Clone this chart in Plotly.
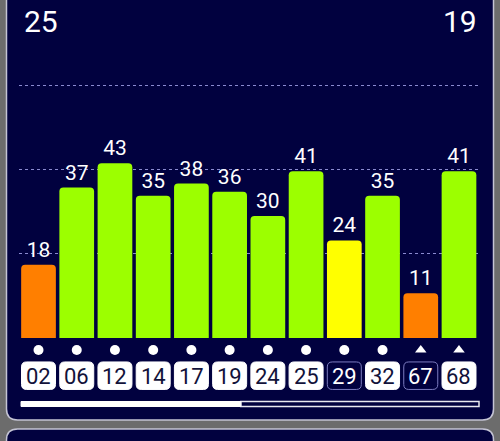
import plotly.graph_objects as go

# ---- data ----
prns = ["02", "06", "12", "14", "17", "19", "24", "25", "29", "32", "67", "68"]
cn0 = [18, 37, 43, 35, 38, 36, 30, 41, 24, 35, 11, 41]
used_in_fix = [True, True, True, True, True, True, True, True, False, True, False, True]
constellation = ["GPS"] * 10 + ["GLONASS"] * 2
in_view = 25
in_use = 19
progress = 0.48

W, H = 500, 441
NAVY = "#01013f"
GRAY = "#6c6c6c"
BORDER = "#c4c4d4"


def bar_color(v):
    if v < 20:
        return "#ff7f00"
    if v < 30:
        return "#ffff00"
    return "#9cff00"


def px(x, y):
    return x / W, 1 - y / H


def rpath(x0, y0, x1, y1, r):
    """Rounded rect path in paper coords from pixel coords."""
    def P(x, y):
        a, b = px(x, y)
        return f"{a:.5f},{b:.5f}"
    s = f"M{P(x0 + r, y0)} L{P(x1 - r, y0)} Q{P(x1, y0)} {P(x1, y0 + r)} "
    s += f"L{P(x1, y1 - r)} Q{P(x1, y1)} {P(x1 - r, y1)} "
    s += f"L{P(x0 + r, y1)} Q{P(x0, y1)} {P(x0, y1 - r)} "
    s += f"L{P(x0, y0 + r)} Q{P(x0, y0)} {P(x0 + r, y0)} Z"
    return s


def box_path(w, h, r):
    hw, hh = w / 2, h / 2
    return (f"M{-hw + r},{-hh} L{hw - r},{-hh} Q{hw},{-hh} {hw},{-hh + r} "
            f"L{hw},{hh - r} Q{hw},{hh} {hw - r},{hh} L{-hw + r},{hh} "
            f"Q{-hw},{hh} {-hw},{hh - r} L{-hw},{-hh + r} Q{-hw},{-hh} {-hw + r},{-hh} Z")


fig = go.Figure()

fig.add_trace(go.Bar(
    x=prns, y=cn0,
    marker=dict(color=[bar_color(v) for v in cn0], cornerradius=4, line=dict(width=0)),
    text=[str(v) for v in cn0], textposition="outside",
    textfont=dict(family="Roboto", size=21, color="white"),
    constraintext="none", cliponaxis=False, hoverinfo="skip",
))

symbols = ["circle" if c == "GPS" else "triangle-up" for c in constellation]
fig.add_trace(go.Scatter(
    x=prns, y=[91] * len(prns), yaxis="y2", mode="markers",
    marker=dict(symbol=symbols, size=10, color="white", line=dict(width=0)),
    hoverinfo="skip",
))

shapes = []
# outer panel
shapes.append(dict(type="path", xref="paper", yref="paper",
                   path=rpath(6.5, -30, 493.5, 420, 11),
                   fillcolor=NAVY, line=dict(color=BORDER, width=1.5), layer="below"))
# next panel
shapes.append(dict(type="path", xref="paper", yref="paper",
                   path=rpath(6.5, 429, 493.5, 470, 11),
                   fillcolor=NAVY, line=dict(color=BORDER, width=1.5), layer="below"))
# progress bar
px0, px1 = 21, 479
pm = px0 + (px1 - px0) * progress
a0, b0 = px(px0, 401.5)
a1, b1 = px(px1, 406.5)
am, _ = px(pm, 0)
shapes.append(dict(type="rect", xref="paper", yref="paper", x0=am, x1=a1, y0=b1, y1=b0,
                   fillcolor=NAVY, line=dict(color="#e8e8f0", width=1.5)))
shapes.append(dict(type="rect", xref="paper", yref="paper", x0=a0, x1=am, y0=b1, y1=b0,
                   fillcolor="white", line=dict(color="white", width=1)))

annotations = []
box_cy = 1 - 375.7 / H
for i, (p, used) in enumerate(zip(prns, used_in_fix)):
    shapes.append(dict(type="path", xref="x", yref="paper", xsizemode="pixel", ysizemode="pixel",
                       xanchor=i, yanchor=box_cy, path=box_path(34, 27.5, 5),
                       fillcolor="white" if used else NAVY,
                       line=dict(color="white" if used else "#7c7cc0", width=1)))
    annotations.append(dict(x=i, y=box_cy, xref="x", yref="paper", text=p, showarrow=False,
                            yanchor="middle", xanchor="center", yshift=-1,
                            font=dict(family="Roboto", size=22,
                                      color="#12123a" if used else "white")))

annotations.append(dict(x=22 / W, y=1 - 21.5 / H, xref="paper", yref="paper", text=str(in_view),
                        showarrow=False, xanchor="left", yanchor="middle",
                        font=dict(family="Roboto", size=30, color="white")))
annotations.append(dict(x=479 / W, y=1 - 21.5 / H, xref="paper", yref="paper", text=str(in_use),
                        showarrow=False, xanchor="right", yanchor="middle",
                        font=dict(family="Roboto", size=30, color="white")))

ymax = 62
ytop = 62.5
fig.update_layout(
    width=W, height=H, margin=dict(l=0, r=0, t=0, b=0),
    paper_bgcolor=GRAY, plot_bgcolor="rgba(0,0,0,0)",
    showlegend=False, bargap=0.092,
    xaxis=dict(domain=[19.4 / W, 478.1 / W], range=[-0.5, 11.5], type="category",
               showticklabels=False, showgrid=False, zeroline=False, showline=False, fixedrange=True),
    yaxis=dict(domain=[1 - 338 / H, 1 - (338 - 252 * ytop / ymax) / H], range=[0, ytop],
               tickvals=[ymax / 3, 2 * ymax / 3, ymax], showticklabels=False,
               showgrid=True, gridcolor="#8a8ad0", gridwidth=1, griddash="3px,3px",
               zeroline=False, showline=False),
    yaxis2=dict(domain=[0, 1 - 338 / H], range=[0, 441 - 338], anchor="x", visible=False),
    shapes=shapes, annotations=annotations,
)

fig.write_html("out.html", config={"displayModeBar": False},
               post_script="document.body.style.margin='0';document.body.style.padding='0';")
